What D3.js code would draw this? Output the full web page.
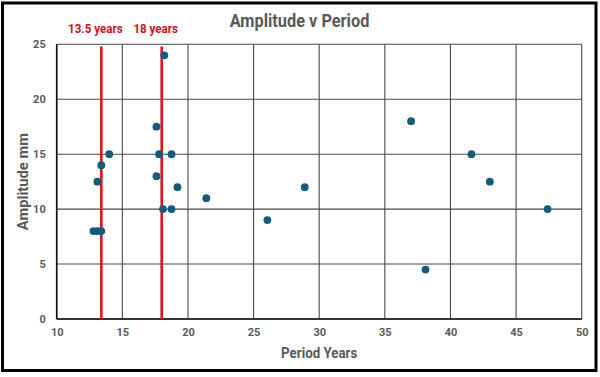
<!DOCTYPE html>
<html><head><meta charset="utf-8">
<script src="https://cdn.jsdelivr.net/npm/d3@7"></script>
<style>
html,body{margin:0;padding:0;background:#fff;}
svg text{font-family:"Liberation Sans Narrow","Roboto","Liberation Sans",sans-serif;}
</style></head>
<body><svg id="c" width="600" height="377"></svg>
<script>
const periodYears = [12.8,13.1,13.4,13.1,13.4,14.0,17.6,17.8,17.6,18.2,18.1,18.75,18.75,19.2,21.4,26.05,28.9,37.0,38.1,41.6,43.0,47.4];
const amplitudeMm = [8,8,8,12.5,14,15,17.5,15,13,24,10,15,10,12,11,9,12,18,4.5,15,12.5,10];
const refLineValues = [13.4, 18];
const refLineLabels = ["13.5 years", "18 years"];
const xTicks = [10,15,20,25,30,35,40,45,50];
const yTicks = [0,5,10,15,20,25];
const titleText = "Amplitude v Period";
const xTitle = "Period Years";
const yTitle = "Amplitude mm";

const svg = d3.select("#c");
const m = {l:56.7, r:581.7, t:44.3, b:319};
const x = d3.scaleLinear().domain([10,50]).range([m.l, m.r]);
const y = d3.scaleLinear().domain([0,25]).range([m.b, m.t]);
const SX = 0.86; // narrow-font emulation

svg.append("rect").attr("x",2.5).attr("y",3).attr("width",593.5).attr("height",367.5)
  .attr("fill","#fff").attr("stroke","#000").attr("stroke-width",3);

const g = svg.append("g");
g.selectAll("line.v").data(xTicks).join("line")
  .attr("x1",d=>x(d)).attr("x2",d=>x(d)).attr("y1",m.t).attr("y2",m.b)
  .attr("stroke","#4a4a4a").attr("stroke-width",1.1);
g.selectAll("line.h").data(yTicks).join("line")
  .attr("x1",m.l).attr("x2",m.r).attr("y1",d=>y(d)).attr("y2",d=>y(d))
  .attr("stroke","#4a4a4a").attr("stroke-width",1.1);
svg.append("line").attr("x1",m.l).attr("x2",m.r).attr("y1",m.b).attr("y2",m.b).attr("stroke","#111").attr("stroke-width",1.6);
svg.append("line").attr("x1",m.l).attr("x2",m.l).attr("y1",m.t).attr("y2",m.b).attr("stroke","#111").attr("stroke-width",1.6);

const xAxis = d3.axisBottom(x).tickValues(xTicks).tickSize(0).tickPadding(9).tickFormat(d3.format("d"));
const ya = d3.axisLeft(y).tickValues(yTicks).tickSize(0).tickPadding(11).tickFormat(d3.format("d"));
const gx = svg.append("g").attr("transform",`translate(0,${m.b})`).call(xAxis);
const gy = svg.append("g").attr("transform",`translate(${m.l},0)`).call(ya);
[gx,gy].forEach(a=>{
  a.select(".domain").remove();
  a.selectAll("text").attr("fill","#595959").attr("font-size",11).attr("font-weight","bold")
   .style("font-family",'"Liberation Sans Narrow","Roboto",sans-serif');
});

svg.selectAll("line.ref").data(refLineValues).join("line")
  .attr("x1",d=>x(d)).attr("x2",d=>x(d)).attr("y1",y(24.8)).attr("y2",m.b)
  .attr("stroke","#e0141c").attr("stroke-width",2.6);
svg.selectAll("g.ref").data(refLineValues).join("g")
  .attr("transform",d=>`translate(${x(d)-6},33) scale(${SX},1)`)
  .append("text").attr("text-anchor","middle")
  .attr("fill","#d0101a").attr("font-size",13.5).attr("font-weight","bold")
  .text((d,i)=>refLineLabels[i]);

svg.selectAll("circle").data(periodYears.map((p,i)=>[p,amplitudeMm[i]])).join("circle")
  .attr("cx",d=>x(d[0])).attr("cy",d=>y(d[1])).attr("r",3.9).attr("fill","#155b7c");

svg.append("g").attr("transform",`translate(299.5,26.5) scale(${SX},1)`).append("text").attr("text-anchor","middle")
  .attr("fill","#595959").attr("font-size",19).attr("font-weight","bold").text(titleText);
svg.append("g").attr("transform",`translate(${(m.l+m.r)/2},357.5) scale(${SX},1)`).append("text").attr("text-anchor","middle")
  .attr("fill","#595959").attr("font-size",15.5).attr("font-weight","bold").text(xTitle);
svg.append("g").attr("transform",`translate(27.5,${(m.t+m.b)/2}) rotate(-90) scale(0.95,1)`).append("text").attr("text-anchor","middle")
  .attr("fill","#595959").attr("font-size",15.5).attr("font-weight","bold").text(yTitle);
</script></body></html>
